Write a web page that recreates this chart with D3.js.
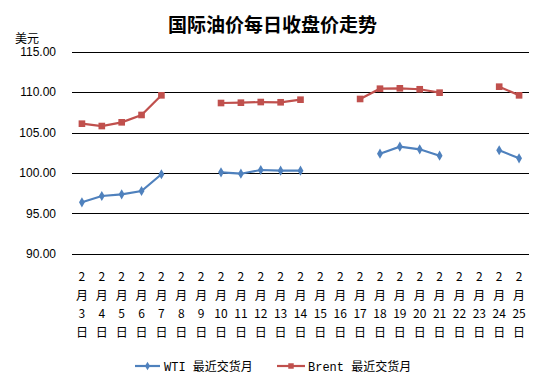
<!DOCTYPE html>
<html><head><meta charset="utf-8">
<script src="https://cdn.jsdelivr.net/npm/d3@7"></script>
<style>body{margin:0;background:#fff}svg{display:block}</style>
</head><body><svg id="c" width="544" height="384"></svg>
<script>
const days = ["3","4","5","6","7","8","9","10","11","12","13","14","15","16","17","18","19","20","21","22","23","24","25"];
const wti = [96.36,97.14,97.35,97.76,99.83,null,null,100.07,99.9,100.36,100.27,100.27,null,null,null,102.38,103.24,102.92,102.13,null,null,102.8,101.8];
const brent = [106.09,105.8,106.26,107.17,109.6,null,null,108.65,108.69,108.77,108.74,109.06,null,null,109.15,110.42,110.47,110.35,109.93,null,null,110.67,109.6];
const yTicks = [90,95,100,105,110,115];
const seriesNames = ["WTI 最近交货月","Brent 最近交货月"];
const colors = ["#4F81BD","#C0504D"];

const svg = d3.select("#c");
const L = 72, R = 529, T = 51.7, B = 253.7;
const x = d3.scaleBand().domain(days).range([L, R]);
const y = d3.scaleLinear().domain([90,115]).range([B, T]);

svg.append("text").attr("x",272.5).attr("y",32).attr("text-anchor","middle")
  .attr("font-family","'Noto Sans CJK SC',sans-serif").attr("font-weight","bold").attr("font-size",19)
  .text("国际油价每日收盘价走势");
svg.append("text").attr("x",15).attr("y",42.5)
  .attr("font-family","'Noto Sans CJK SC',sans-serif").attr("font-size",12).text("美元");

// grid + y labels
const yAxis = d3.axisLeft(y).tickValues(yTicks).tickSize(-(R-L)).tickFormat(d3.format(".2f")).tickPadding(16);
const gy = svg.append("g").attr("transform",`translate(${L},0)`).call(yAxis);
gy.select(".domain").remove();
gy.selectAll(".tick line").attr("stroke","#000").attr("shape-rendering","crispEdges");
gy.selectAll(".tick text").attr("font-family","Arial, 'Liberation Sans', sans-serif").attr("font-size",12).attr("fill","#000");

// x labels
const xg = svg.append("g");
days.forEach(d => {
  const cx = x(d) + x.bandwidth()/2;
  const t = xg.append("text").attr("text-anchor","middle").attr("font-size",12).attr("fill","#000")
    .attr("font-family","'Noto Sans CJK SC',sans-serif");
  ["2","月",d,"日"].forEach((s,i)=>{
    t.append("tspan").attr("x",cx).attr("y",281+i*18.5).text(s);
  });
});

// series
[wti, brent].forEach((data, si) => {
  const pts = data.map((v,i)=>({v, d: days[i]}));
  const line = d3.line().defined(p=>p.v!=null).x(p=>x(p.d)+x.bandwidth()/2).y(p=>y(p.v));
  svg.append("path").datum(pts).attr("d",line).attr("fill","none").attr("stroke",colors[si]).attr("stroke-width",2.2);
  const valid = pts.filter(p=>p.v!=null);
  const sym = si===0 ? d3.symbol().type(d3.symbolDiamond).size(30) : d3.symbol().type(d3.symbolSquare).size(44);
  svg.selectAll(null).data(valid).enter().append("path")
    .attr("transform",p=>`translate(${x(p.d)+x.bandwidth()/2},${y(p.v)})`)
    .attr("d",sym).attr("fill",colors[si]);
});

// legend
const leg = [{x0:135,x1:160,tx:164},{x0:277,x1:305,tx:308}];
leg.forEach((l,si)=>{
  const ly = 366;
  svg.append("line").attr("x1",l.x0).attr("x2",l.x1).attr("y1",ly).attr("y2",ly).attr("stroke",colors[si]).attr("stroke-width",2.2);
  const sym = si===0 ? d3.symbol().type(d3.symbolDiamond).size(22) : d3.symbol().type(d3.symbolSquare).size(30);
  svg.append("path").attr("transform",`translate(${(l.x0+l.x1)/2},${ly})`).attr("d",sym).attr("fill",colors[si]);
  svg.append("text").attr("x",l.tx).attr("y",ly+4.5).attr("font-size",12)
    .attr("font-family","'Liberation Mono','Noto Sans CJK SC',monospace").text(seriesNames[si]);
});
</script></body></html>
